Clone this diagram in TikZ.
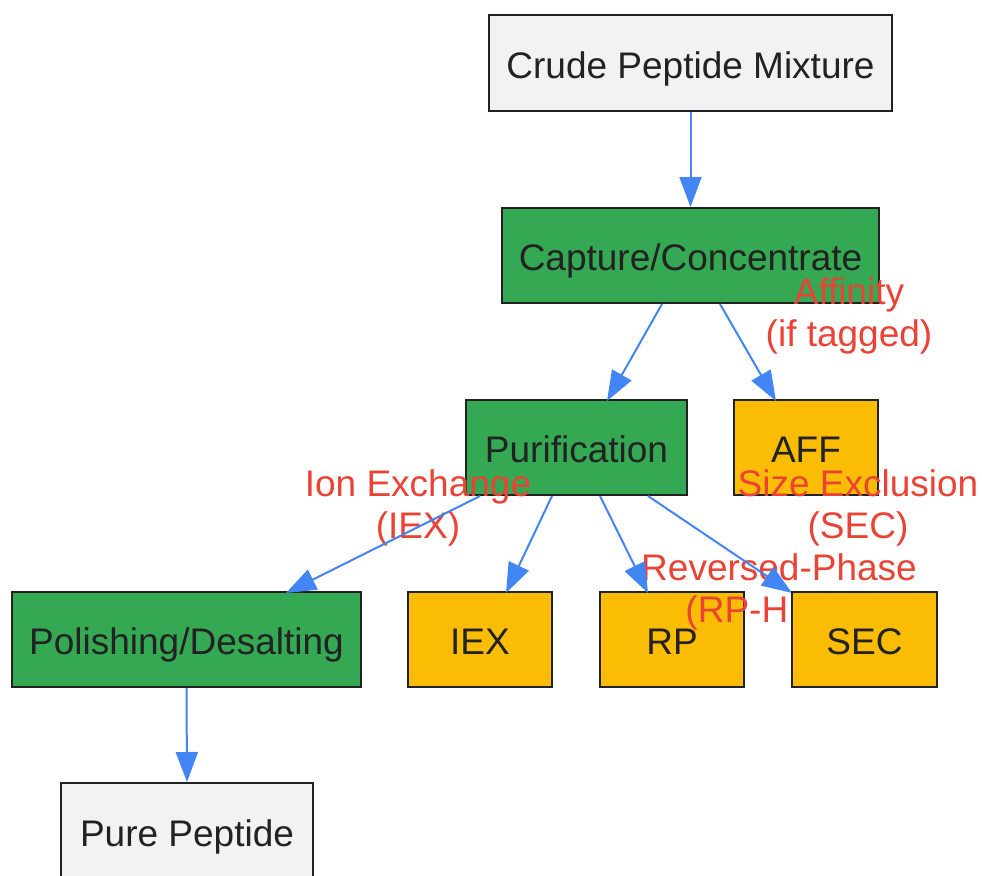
\documentclass[tikz,border=0pt]{standalone}
\usepackage{fontspec}
\setmainfont{Liberation Sans}
\usetikzlibrary{arrows.meta,positioning}
\definecolor{boxgray}{HTML}{F1F2F4}
\definecolor{boxgreen}{HTML}{34A853}
\definecolor{boxyellow}{HTML}{FBBC04}
\definecolor{edgeblue}{HTML}{4285F4}
\definecolor{labred}{HTML}{EA4335}
\definecolor{textdark}{HTML}{222222}
\pgfdeclarelayer{bg}
\pgfdeclarelayer{fg}
\pgfsetlayers{bg,main,fg}
\tikzset{
  box/.style={draw=textdark, line width=2pt, rectangle, inner sep=0pt,
    minimum height=96pt, text=textdark, font=\fontsize{37}{42}\selectfont,
    text height=30.5pt, text depth=0pt},
  graybox/.style={box, fill=boxgray},
  greenbox/.style={box, fill=boxgreen},
  yellowbox/.style={box, fill=boxyellow},
  edge/.style={draw=edgeblue, line width=2pt, -{Triangle[length=30pt,width=22pt]}},
  elabel/.style={text=labred, align=center, inner sep=0pt,
    font=\fontsize{37}{42}\selectfont}
}
\begin{document}
\begin{tikzpicture}[x=1pt,y=-1pt]
\useasboundingbox (0,0) rectangle (982,875);
\begin{pgfonlayer}{bg}
\node[graybox, minimum width=403pt] (crude) at (690.5,63) {Crude Peptide Mixture};
\node[greenbox, minimum width=377pt, minimum height=95pt] (capture) at (690.5,255.5) {Capture/Concentrate};
\node[greenbox, minimum width=221pt, minimum height=95pt] (purif) at (576.5,447.5) {Purification};
\node[yellowbox, minimum width=144pt, minimum height=95pt] (aff) at (806,447.5) {AFF};
\node[greenbox, minimum width=349pt, minimum height=95pt] (polish) at (186.5,639.5) {Polishing/Desalting};
\node[yellowbox, minimum width=144pt, minimum height=95pt] (iex) at (480,639.5) {IEX};
\node[yellowbox, minimum width=144pt, minimum height=95pt] (rp) at (672,639.5) {RP};
\node[graybox, minimum width=252pt] (pure) at (187,831) {Pure Peptide};
\end{pgfonlayer}
\begin{pgfonlayer}{fg}
\node[yellowbox, minimum width=145pt, minimum height=95pt] (sec) at (864.5,639.5) {SEC};
\end{pgfonlayer}
% edge labels
\node[elabel] (laff) at (849,316) {Affinity\\(if tagged)};
\node[elabel] (liex) at (418,508) {Ion Exchange\\(IEX)};
\node[elabel] (lsec) at (858,508) {Size Exclusion\\(SEC)};
\node[elabel] (lrp) at (779,592) {Reversed-Phase\\(RP-HPLC)};
% edges
\draw[edge] (crude.south) -- (capture.north);
\draw[edge] ([xshift=-28.5pt]capture.south) -- ([xshift=30.5pt,yshift=-2pt]purif.north);
\draw[edge] ([xshift=29.5pt]capture.south) -- ([xshift=-30pt,yshift=-2pt]aff.north);
\draw[edge] ([xshift=-96.5pt]purif.south) -- ([xshift=99.5pt,yshift=-2pt]polish.north);
\draw[edge] ([xshift=-24.5pt]purif.south) -- ([xshift=26pt,yshift=-2pt]iex.north);
\draw[edge] ([xshift=23.5pt]purif.south) -- ([xshift=-24pt,yshift=-2pt]rp.north);
\draw[edge] ([xshift=71.5pt]purif.south) -- ([xshift=-72.5pt,yshift=-2pt]sec.north);
\draw[edge] (polish.south) -- (pure.north);
\end{tikzpicture}
\end{document}
